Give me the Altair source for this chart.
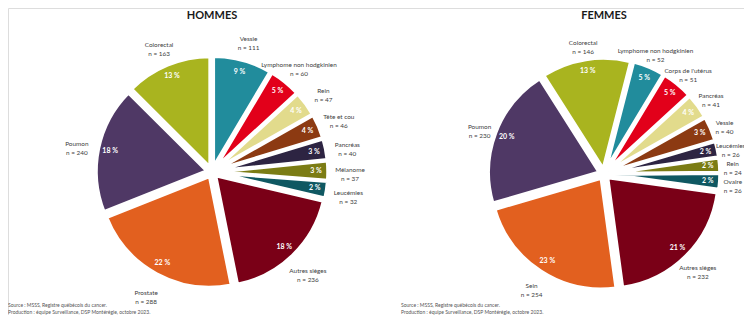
import math
import altair as alt
import pandas as pd

# ---------------- data ----------------
hommes_sites = ["Vessie", "Lymphome non hodgkinien", "Rein", "Tête et cou", "Pancréas",
                "Mélanome", "Leucémies", "Autres sièges", "Prostate", "Poumon", "Colorectal"]
hommes_n = [111, 60, 47, 46, 40, 37, 32, 236, 288, 240, 163]
hommes_pct = ["9 %", "5 %", "4 %", "4 %", "3 %", "3 %", "2 %", "18 %", "22 %", "18 %", "13 %"]

femmes_sites = ["Lymphome non hodgkinien", "Corps de l'utérus", "Pancréas", "Vessie", "Leucémies",
                "Rein", "Ovaire", "Autres sièges", "Sein", "Poumon", "Colorectal"]
femmes_n = [52, 51, 41, 40, 26, 24, 26, 232, 254, 230, 146]
femmes_pct = ["5 %", "5 %", "4 %", "3 %", "2 %", "2 %", "2 %", "21 %", "23 %", "20 %", "13 %"]

groups = ["HOMMES", "FEMMES"]
source_lines = ["Source : MSSS, Registre québécois du cancer.",
                "Production : équipe Surveillance, DSP Montérégie, octobre 2023."]

palette = ["#218C9C", "#E2001A", "#E2DB8C", "#8C3A12", "#2D2442", "#7B7C14",
           "#0F5862", "#7A0017", "#E2601F", "#4F3865", "#A9B41F"]

rows = []
for g, sites, ns, pcts in [("HOMMES", hommes_sites, hommes_n, hommes_pct),
                           ("FEMMES", femmes_sites, femmes_n, femmes_pct)]:
    for i, (s, n, p) in enumerate(zip(sites, ns, pcts)):
        rows.append({"sexe": g, "ordre": i, "site": s, "n": n, "pct": p,
                     "label": f"{s}\nn = {n}"})
df = pd.DataFrame(rows)

src_rows = []
for g in groups:
    for j, line in enumerate(source_lines):
        src_rows.append({"sexe": g, "ligne": j, "texte": line})
src_df = pd.DataFrame(src_rows)
title_df = pd.DataFrame({"sexe": groups})

# ---------------- layout constants ----------------
CX = "datum.sexe == 'FEMMES' ? 596 : 204"
CY = "datum.sexe == 'FEMMES' ? 166 : 164"
EXPLODE = 5
theta_scale = alt.Scale(domain=[0, 1], range=[0, 2 * math.pi])

base = (
    alt.Chart(df)
    .transform_window(cum="sum(n)", sort=[alt.SortField("ordre")], groupby=["sexe"], frame=[None, 0])
    .transform_joinaggregate(total="sum(n)", groupby=["sexe"])
    .transform_calculate(
        rot="datum.sexe == 'FEMMES' ? 0.04 : 0",
        f0="(datum.cum - datum.n) / datum.total + datum.rot",
        f1="datum.cum / datum.total + datum.rot",
        fm="(datum.cum - datum.n / 2) / datum.total + datum.rot",
        ang="2 * PI * datum.fm",
        cx=CX,
        cy=CY,
        ex=f"datum.cx + {EXPLODE} * sin(datum.ang)",
        ey=f"datum.cy - {EXPLODE} * cos(datum.ang)",
        lr="datum.sexe == 'FEMMES' ? 133 - 4 * pow(max(0, sin(datum.ang)), 8) : 138",
    )
)

xpos = alt.X("ex:Q", scale=None, axis=None, stack=None)
ypos = alt.Y("ey:Q", scale=None, axis=None, stack=None)

arcs = base.mark_arc(outerRadius=111, stroke="white", strokeWidth=3.5).encode(
    theta=alt.Theta("f0:Q", scale=theta_scale, stack=None),
    theta2="f1:Q",
    x=xpos,
    y=ypos,
    color=alt.Color("ordre:O", scale=alt.Scale(domain=list(range(11)), range=palette), legend=None),
)

pct_text = base.mark_text(radius=99, font="Lato", fontSize=7, fontWeight="bold",
                          color="white", align="center", baseline="middle").encode(
    theta=alt.Theta("fm:Q", scale=theta_scale, stack=None),
    x=xpos,
    y=ypos,
    text="pct:N",
)

site_text = base.mark_text(font="Lato", fontSize=6.4, color="#404040",
                           align="center", baseline="middle", lineBreak="\n", lineHeight=9).encode(
    theta=alt.Theta("fm:Q", scale=theta_scale, stack=None),
    radius=alt.Radius("lr:Q", scale=None),
    x=alt.X("cx:Q", scale=None, axis=None, stack=None),
    y=alt.Y("cy:Q", scale=None, axis=None, stack=None),
    text="label:N",
)

titles = alt.Chart(title_df).transform_calculate(cx=CX).mark_text(
    font="Lato", fontSize=11, fontWeight="bold", color="#1a1a1a", baseline="alphabetic", align="center"
).encode(
    x=alt.X("cx:Q", scale=None, axis=None),
    y=alt.value(10.5),
    text="sexe:N",
)

sources = alt.Chart(src_df).transform_calculate(
    sx="datum.sexe == 'FEMMES' ? 393 : 0",
    sy="296.5 + 7 * datum.ligne",
).mark_text(font="Lato", fontSize=5, color="#555555", align="left", baseline="middle").encode(
    x=alt.X("sx:Q", scale=None, axis=None),
    y=alt.Y("sy:Q", scale=None, axis=None),
    text="texte:N",
)

chart = (
    alt.layer(arcs, pct_text, site_text, titles, sources)
    .properties(width=736, height=307, autosize=alt.AutoSizeParams(type="none"), padding=0)
    .configure_view(stroke=None)
    .configure(background="white")
)

chart.save("out.html", embed_options={"renderer": "svg", "actions": False})
